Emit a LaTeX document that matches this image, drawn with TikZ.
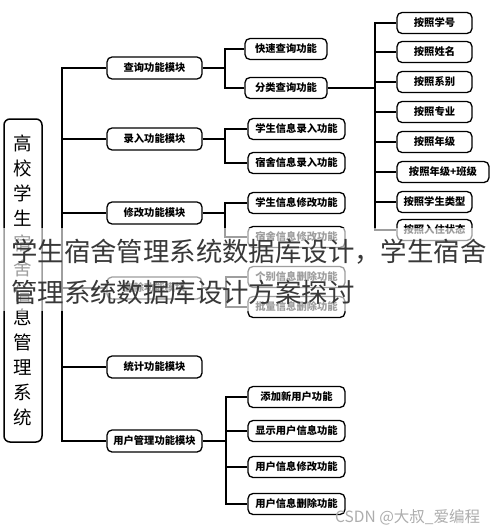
\documentclass[tikz,border=0pt]{standalone}
\usepackage{fontspec}
\newfontfamily\cjk{Noto Sans CJK SC}
\tikzset{
  boxbase/.style={draw=black, line width=1.3pt, rounded corners=5pt, inner sep=0pt,
    font=\cjk\bfseries\fontsize{10.3}{12}\selectfont, fill=white},
  modbox/.style={boxbase, minimum width=95pt, minimum height=22pt},
  subbox/.style={boxbase, minimum width=97pt, minimum height=21pt},
  leafbox/.style={boxbase, minimum width=75pt, minimum height=21pt},
  conn/.style={draw=black, line width=1.1pt},
}
\begin{document}
\begin{tikzpicture}[x=1pt,y=-1pt]
\useasboundingbox (0,0) rectangle (490,527);
\fill[white] (0,0) rectangle (490,527);

% root
\node[draw=black, line width=1.5pt, rounded corners=6pt, minimum width=38pt, minimum height=323pt, inner sep=0pt,
  align=center, font=\cjk\fontsize{18.5}{24.9}\selectfont] (root) at (23,280.5)
  {高\\校\\学\\生\\宿\\舍\\信\\息\\管\\理\\系\\统};

% modules
\node[modbox] (q)  at (154.5,68)  {查询功能模块};
\node[modbox] (lr) at (154.5,139) {录入功能模块};
\node[modbox] (xg) at (154.5,213) {修改功能模块};
\node[modbox] (sc) at (154.5,288) {删除功能模块};
\node[modbox] (tj) at (154.5,367) {统计功能模块};
\node[modbox] (yh) at (154.5,441) {用户管理功能模块};

% sub functions
\node[subbox, minimum width=82pt] (ks) at (286,49) {快速查询功能};
\node[subbox, minimum width=82pt] (fl) at (286,88) {分类查询功能};
\node[subbox] (xsl) at (296.5,129) {学生信息录入功能};
\node[subbox] (ssl) at (296.5,163) {宿舍信息录入功能};
\node[subbox] (xsx) at (296.5,203) {学生信息修改功能};
\node[subbox] (ssx) at (296.5,237) {宿舍信息修改功能};
\node[subbox] (gb)  at (296.5,277) {个别信息删除功能};
\node[subbox] (pl)  at (296.5,307) {批量信息删除功能};
\node[subbox] (u1)  at (296.5,397) {添加新用户功能};
\node[subbox] (u2)  at (296.5,431) {显示用户信息功能};
\node[subbox] (u3)  at (296.5,467) {用户信息修改功能};
\node[subbox] (u4)  at (296.5,504) {用户信息删除功能};

% leaves
\node[leafbox] (a1) at (434.5,23)  {按照学号};
\node[leafbox] (a2) at (434.5,52)  {按照姓名};
\node[leafbox] (a3) at (434.5,82)  {按照系别};
\node[leafbox] (a4) at (434.5,112) {按照专业};
\node[leafbox] (a5) at (434.5,142) {按照年级};
\node[leafbox, minimum width=92pt] (a6) at (443,172) {按照年级+班级};
\node[leafbox] (a7) at (434.5,202) {按照学生类型};
\node[leafbox] (a8) at (434.5,230) {按照入住状态};

% bar coordinates
\coordinate (tb) at (62,280);
\coordinate (qb) at (225,68);
\coordinate (lb) at (225,139);
\coordinate (xb) at (225,213);
\coordinate (sb) at (226,288);
\coordinate (ub) at (226,441);
\coordinate (fb) at (375,88);

% trunk
\draw[conn] (q.west) -| (tb);
\draw[conn] (yh.west) -| (tb);
\foreach \m in {lr,xg,sc,tj} \draw[conn] (\m.west) -- (\m.west -| tb);

% module to subs
\draw[conn] (q.east) -- (qb);
\draw[conn] (ks.west) -| (qb);
\draw[conn] (fl.west) -| (qb);
\draw[conn] (lr.east) -- (lb);
\draw[conn] (xsl.west) -| (lb);
\draw[conn] (ssl.west) -| (lb);
\draw[conn] (xg.east) -- (xb);
\draw[conn] (xsx.west) -| (xb);
\draw[conn] (ssx.west) -| (xb);
\draw[conn] (sc.east) -- (sb);
\draw[conn] (gb.west) -| (sb);
\draw[conn] (pl.west) -| (sb);
\draw[conn] (yh.east) -- (ub);
\draw[conn] (u1.west) -| (ub);
\draw[conn] (u4.west) -| (ub);
\draw[conn] (u2.west) -- (u2.west -| ub);
\draw[conn] (u3.west) -- (u3.west -| ub);

% classification leaves
\draw[conn] (fl.east) -- (fb);
\draw[conn] (a1.west) -| (fb);
\draw[conn] (a8.west) -| (fb);
\foreach \l in {a2,a3,a4,a5,a6,a7} \draw[conn] (\l.west) -- (\l.west -| fb);

% overlay band and title
\fill[white, opacity=0.62] (0,228) rectangle (490,311);
\node[anchor=west, inner sep=0pt, text=black!78, font=\cjk\fontsize{26.4}{30}\selectfont] (t1) at (11,252) {学生宿舍管理系统数据库设计，学生宿舍};
\node[anchor=west, inner sep=0pt, text=black!78, font=\cjk\fontsize{26.4}{30}\selectfont] (t2) at (11,292) {管理系统数据库设计方案探讨};

% watermark
\node[anchor=west, inner sep=0pt, text=black!32, font=\cjk\fontsize{15.5}{17}\selectfont] (wm) at (335,517) {CSDN @大叔\_爱编程};
\end{tikzpicture}
\end{document}
